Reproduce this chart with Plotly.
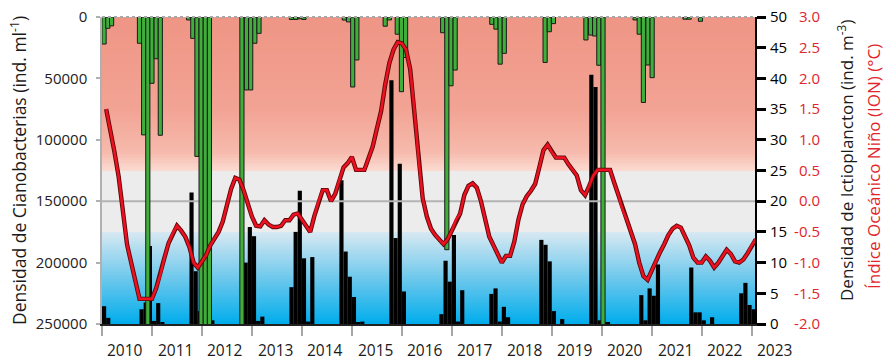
import numpy as np
import plotly.graph_objects as go

# Time axis: months counted from January 2010 (0 = Jan 2010)
YEARS = list(range(2010, 2024))

# Cyanobacteria density (ind. ml-1): sampling month and value
CYANO_MONTH = [0.5, 1.4, 2.3,
               9.0, 10.0, 11.0, 12.0, 13.0, 14.0,
               20.8, 21.8, 22.8, 23.8, 24.8, 25.8,
               33.6, 34.7, 35.7, 36.7, 37.7,
               45.5, 46.5, 47.5, 48.5,
               58.2, 59.2, 60.2, 61.2,
               68.0, 69.0, 70.9, 71.9, 72.9,
               81.8, 82.8, 83.8, 84.8,
               93.6, 94.6, 95.6, 96.6,
               106.4, 107.4, 108.4,
               116.2, 117.3, 118.3, 119.3, 120.3,
               128.0, 129.0, 130.0, 131.1, 132.1,
               140.0, 141.0, 143.7]
CYANO_VALUE = [22000, 9200, 7200,
               21400, 96000, 275000, 54000, 34000, 96300,
               2400, 17400, 113500, 275000, 275000, 275000,
               275000, 59400, 59400, 21400, 13300,
               2000, 2000, 1500, 2000,
               2500, 4000, 57000, 35000,
               7500, 2400, 14000, 60800, 33000,
               12800, 189500, 56000, 43200,
               6000, 9900, 38400, 29600,
               37000, 12000, 5400,
               18700, 14700, 15500, 39300, 275000,
               2400, 14000, 69600, 39100, 49400,
               1800, 1800, 3500]

# Ichthyoplankton density (ind. m-3): sampling month and value
ICT_MONTH = [0, 1, 9, 10, 11, 12, 13, 14,
             21, 22, 23, 26,
             34, 35, 36, 37, 38,
             45, 46, 47, 48, 49, 50,
             57, 58, 59, 60, 61, 62,
             69, 70, 71, 72,
             81, 82, 83, 84, 85, 86,
             93, 94, 95, 96, 97,
             105, 106, 107, 108, 110,
             117, 118, 119, 120, 121,
             129, 130, 131, 132, 133,
             141, 142, 143, 144, 146,
             153, 154, 155, 156]
ICT_VALUE = [2.9, 1.0, 2.4, 3.5, 12.7, 0.5, 3.4, 0.3,
             21.4, 8.6, 2.1, 0.6,
             10.0, 15.8, 14.3, 0.5, 1.2,
             6.0, 15.0, 21.7, 10.7, 0.4, 10.9,
             23.4, 11.8, 7.7, 4.4, 0.3, 0.4,
             39.7, 14.0, 26.1, 5.3,
             1.6, 10.3, 6.9, 14.5, 0.4, 5.5,
             4.9, 5.8, 0.4, 2.8, 1.1,
             13.7, 12.9, 10.2, 2.1, 0.8,
             40.6, 38.6, 0.6, 0.25, 0.25,
             4.7, 0.6, 5.8, 4.6, 9.7,
             9.2, 1.9, 1.9, 0.6, 1.1,
             5.0, 6.7, 3.1, 2.4]

# Oceanic Niño Index (degC), monthly from Feb 2010
ION_MONTH = list(range(1, 158))
ION_VALUE = [1.50, 1.17, 0.80, 0.40, -0.15, -0.70, -1.00, -1.30, -1.59, -1.59, -1.59,   # 2010
             -1.59, -1.42, -1.20, -0.92, -0.68, -0.52, -0.40, -0.48, -0.58, -0.75, -1.00, -1.08,  # 2011
             -0.98, -0.88, -0.72, -0.60, -0.50, -0.33, -0.05, 0.20, 0.38, 0.35, 0.18, -0.05,  # 2012
             -0.25, -0.40, -0.41, -0.31, -0.38, -0.42, -0.42, -0.40, -0.31, -0.31, -0.22, -0.20,  # 2013
             -0.30, -0.42, -0.50, -0.24, 0.00, 0.18, 0.18, 0.00, 0.12, 0.35, 0.55, 0.62,  # 2014
             0.72, 0.51, 0.51, 0.51, 0.70, 0.89, 1.18, 1.46, 1.90, 2.25, 2.47, 2.59,  # 2015
             2.57, 2.47, 2.15, 1.50, 0.70, 0.05, -0.25, -0.45, -0.55, -0.62, -0.70, -0.62,  # 2016
             -0.48, -0.30, -0.20, 0.10, 0.25, 0.29, 0.22, 0.00, -0.30, -0.58, -0.72, -0.85,  # 2017
             -1.00, -0.89, -0.89, -0.66, -0.30, -0.05, 0.08, 0.17, 0.28, 0.55, 0.83, 0.92,  # 2018
             0.80, 0.71, 0.71, 0.71, 0.60, 0.50, 0.42, 0.18, 0.10, 0.25, 0.42, 0.51,  # 2019
             0.51, 0.51, 0.51, 0.30, 0.10, -0.14, -0.30, -0.50, -0.70, -1.00, -1.22, -1.28,  # 2020
             -1.12, -0.98, -0.83, -0.70, -0.55, -0.45, -0.40, -0.43, -0.58, -0.72, -0.92, -1.00,  # 2021
             -1.00, -0.90, -0.97, -1.08, -1.00, -0.90, -0.79, -0.86, -0.98, -1.00, -0.95, -0.85,  # 2022
             -0.72, -0.62]  # 2023

X_RANGE = [0, 156.8]
ICT_RANGE = [0, 50]
ION_RANGE = [-2, 3]
CYANO_RANGE = [250000, 0]
ION_WARM, ION_COLD = 0.5, -0.5
YEAR_LABEL_OFFSET = 5.6   # months into each year where its label sits


def ion_to_ict(v):
    """Map an ION value onto the ichthyoplankton axis (both axes share the plot height)."""
    frac = (v - ION_RANGE[0]) / (ION_RANGE[1] - ION_RANGE[0])
    return ICT_RANGE[0] + frac * (ICT_RANGE[1] - ICT_RANGE[0])


# Background: cold (blue) / neutral (grey) / warm (red) bands with vertical gradients
edges = np.linspace(ICT_RANGE[0], ICT_RANGE[1], 201)
centres = (edges[:-1] + edges[1:]) / 2
cold = ion_to_ict(ION_COLD) / ICT_RANGE[1]
warm = ion_to_ict(ION_WARM) / ICT_RANGE[1]
band_scale = [
    [0.0, "rgb(0,173,236)"],
    [cold * 0.5, "rgb(110,200,236)"],
    [cold, "rgb(216,233,242)"],
    [cold, "rgb(236,236,236)"],
    [warm, "rgb(236,236,236)"],
    [warm, "rgb(251,218,209)"],
    [warm + 0.06, "rgb(246,186,172)"],
    [warm + 0.2, "rgb(242,163,148)"],
    [1.0, "rgb(239,149,133)"],
]

fig = go.Figure()
fig.add_trace(go.Heatmap(x=X_RANGE, y=edges, z=centres.reshape(-1, 1),
                         colorscale=band_scale, zmin=ICT_RANGE[0], zmax=ICT_RANGE[1],
                         showscale=False, hoverinfo="skip", xaxis="x", yaxis="y"))
# ION = 0 reference line
fig.add_trace(go.Scatter(x=X_RANGE, y=[ion_to_ict(0)] * 2, mode="lines",
                         line=dict(color="#b4b4b4", width=2), hoverinfo="skip",
                         xaxis="x", yaxis="y"))
# Ichthyoplankton bars (bottom-up)
fig.add_trace(go.Bar(x=ICT_MONTH, y=ICT_VALUE, width=1, offset=0,
                     marker=dict(color="black", line=dict(width=0)),
                     xaxis="x", yaxis="y"))
# Cyanobacteria bars (hanging from the top, reversed axis)
fig.add_trace(go.Bar(x=CYANO_MONTH, y=CYANO_VALUE, width=1,
                     marker=dict(color="#3fae3a", line=dict(color="#1a1a1a", width=1)),
                     xaxis="x", yaxis="y2"))
# ION line: dark casing under a red core
fig.add_trace(go.Scatter(x=ION_MONTH, y=ION_VALUE, mode="lines",
                         line=dict(color="#5a0808", width=4.4), xaxis="x", yaxis="y3"))
fig.add_trace(go.Scatter(x=ION_MONTH, y=ION_VALUE, mode="lines",
                         line=dict(color="#ec1020", width=2.6), xaxis="x", yaxis="y3"))

W, H = 886, 361
ML, MT, MB = 102, 17, 37
PLOT_RIGHT = 755
XDOM = (PLOT_RIGHT - ML) / (W - ML)
PH = H - MT - MB


def px_x(p):
    return (p - ML) / (W - ML)


def px_y(p):
    return (H - MB - p) / PH


def month_to_paper(m):
    return XDOM * (m - X_RANGE[0]) / (X_RANGE[1] - X_RANGE[0])


ion_ticks = [round(ION_RANGE[0] + 0.5 * i, 1) for i in range(11)]
TICK_SIZE = 15

fig.update_layout(
    width=W, height=H,
    margin=dict(l=ML, r=0, t=MT, b=MB, pad=0),
    paper_bgcolor="white", plot_bgcolor="white",
    showlegend=False, barmode="overlay",
    font=dict(family="Open Sans", size=TICK_SIZE, color="#1a1a1a"),
    xaxis=dict(domain=[0, XDOM], range=X_RANGE,
               tickvals=[12 * i for i in range(len(YEARS))], showticklabels=False,
               ticks="outside", ticklen=10, tickwidth=2, tickcolor="#a6a6a6",
               showline=True, linecolor="#222222", linewidth=1.5,
               showgrid=False, zeroline=False),
    yaxis=dict(range=ICT_RANGE, side="right",
               tickvals=list(range(0, 51, 5)),
               ticks="outside", ticklen=9, tickwidth=2.5, tickcolor="black",
               showline=True, linecolor="black", linewidth=2,
               showgrid=False, zeroline=False,
               tickfont=dict(size=TICK_SIZE, color="black"), ticklabelstandoff=1),
    yaxis2=dict(overlaying="y", side="left", range=CYANO_RANGE,
                tickvals=list(range(0, 250001, 50000)), tickformat="d",
                ticks="outside", ticklen=4, tickwidth=1.5, tickcolor="#b0b0b0",
                showline=True, linecolor="#b0b0b0", linewidth=1.5,
                showgrid=False, zeroline=False, ticklabelstandoff=6,
                tickfont=dict(size=TICK_SIZE, color="#222222")),
    yaxis3=dict(overlaying="y", side="right", anchor="free", position=px_x(823),
                range=ION_RANGE, tickvals=ion_ticks,
                ticktext=[f"{v:.1f}" for v in ion_ticks],
                ticks="", showline=False, showgrid=False, zeroline=False,
                ticklabelposition="inside", ticklabeloverflow="allow",
                tickfont=dict(size=TICK_SIZE, color="#e2252b")),
)

annotations = [
    dict(text="Densidad de Cianobacterias (ind. ml<sup>-1</sup>)", x=px_x(18), y=px_y(171),
         xref="paper", yref="paper", textangle=-90, showarrow=False,
         font=dict(size=17.5, color="#1a1a1a"), xanchor="center", yanchor="middle"),
    dict(text="Densidad de Ictioplancton (ind. m<sup>-3</sup>)", x=px_x(845), y=px_y(161),
         xref="paper", yref="paper", textangle=-90, showarrow=False,
         font=dict(size=17, color="#1a1a1a"), xanchor="center", yanchor="middle"),
    dict(text="Índice Oceánico Niño (ION) (°C)", x=px_x(873), y=px_y(167),
         xref="paper", yref="paper", textangle=-90, showarrow=False,
         font=dict(size=17, color="#e2252b"), xanchor="center", yanchor="middle"),
]
for i, yr in enumerate(YEARS):
    annotations.append(dict(text=str(yr), x=month_to_paper(12 * i + YEAR_LABEL_OFFSET),
                            y=px_y(350), xref="paper", yref="paper",
                            showarrow=False, font=dict(size=15.5, color="#1a1a1a"),
                            xanchor="center", yanchor="middle", borderpad=0))
fig.update_layout(annotations=annotations)

fig.add_shape(type="line", xref="paper", yref="paper", x0=0, x1=XDOM, y0=1, y1=1,
              line=dict(color="#a8a8a8", width=2, dash="dot"), layer="above")

fig.write_html("out.html")
